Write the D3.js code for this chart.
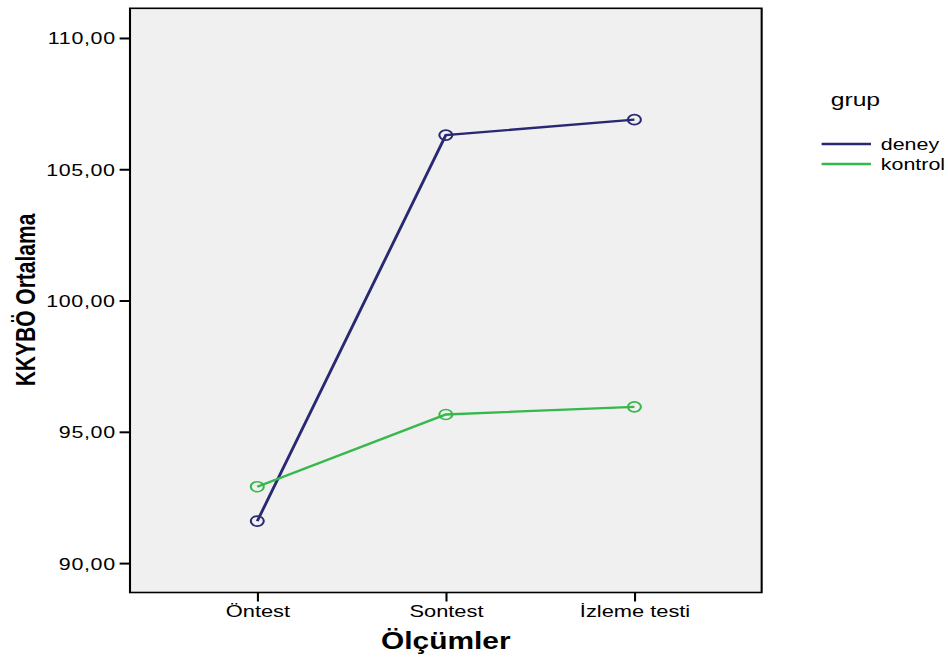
<!DOCTYPE html>
<html>
<head>
<meta charset="utf-8">
<script src="https://cdn.jsdelivr.net/npm/d3@7"></script>
<style>
  body { margin: 0; background: #fff; }
  svg text { font-family: "Liberation Sans", Arial, sans-serif; fill: #000; }
</style>
</head>
<body>
<svg id="chart"></svg>
<script>
// datos
const olcumler = ["Öntest", "Sontest", "İzleme testi"];
const gruplar = ["deney", "kontrol"];
const deney = [91.60, 106.30, 106.89];
const kontrol = [92.91, 95.66, 95.95];
const yTicks = [90, 95, 100, 105, 110];

const W = 948, H = 657;
const sx = 1.3; // la imagen esta estirada horizontalmente
const LW = W / sx;

const svg = d3.select("#chart")
  .attr("width", W)
  .attr("height", H)
  .attr("viewBox", `0 0 ${LW} ${H}`)
  .attr("preserveAspectRatio", "none");

const pLeft = 100, pRight = 585.9, pTop = 8.3, pBottom = 592.5;

const x = d3.scalePoint()
  .domain(olcumler)
  .range([pLeft, pRight])
  .padding(0.675);

const y = d3.scaleLinear()
  .domain([88.88, 111.13])
  .range([pBottom, pTop]);

const colors = d3.scaleOrdinal()
  .domain(gruplar)
  .range(["#282873", "#36b84a"]);

// fondo
svg.append("rect")
  .attr("x", pLeft).attr("y", pTop)
  .attr("width", pRight - pLeft).attr("height", pBottom - pTop)
  .attr("fill", "#f0f0f0");

// Ejes
const yAxis = svg.append("g")
  .attr("transform", `translate(${pLeft},0)`)
  .call(d3.axisLeft(y).tickValues(yTicks).tickSize(8).tickPadding(3)
    .tickFormat(d => d3.format(".2f")(d).replace(".", ",")));
yAxis.select(".domain").remove();
yAxis.selectAll("line").attr("stroke", "#000").attr("stroke-width", 2);
yAxis.selectAll("text")
  .attr("font-size", 16.5)
  .attr("letter-spacing", 0.5)
  .attr("font-family", "Liberation Sans, Arial, sans-serif")
  .attr("dy", "0.36em");

const xAxis = svg.append("g")
  .attr("transform", `translate(0,${pBottom})`)
  .call(d3.axisBottom(x).tickSize(9).tickPadding(4));
xAxis.select(".domain").remove();
xAxis.selectAll("line").attr("stroke", "#000").attr("stroke-width", 1.6);
xAxis.selectAll("text")
  .attr("font-size", 16.8)
  .attr("font-family", "Liberation Sans, Arial, sans-serif");

// marco
svg.append("rect")
  .attr("x", pLeft).attr("y", pTop)
  .attr("width", pRight - pLeft).attr("height", pBottom - pTop)
  .attr("fill", "none")
  .attr("stroke", "#000")
  .attr("stroke-width", 1.6);

// lineas
const series = [
  { name: "deney", values: deney },
  { name: "kontrol", values: kontrol }
];

const line = d3.line()
  .x((d, i) => x(olcumler[i]))
  .y(d => y(d));

series.forEach(s => {
  svg.append("path")
    .datum(s.values)
    .attr("d", line)
    .attr("fill", "none")
    .attr("stroke", colors(s.name))
    .attr("stroke-width", 2.3);

  svg.selectAll(null)
    .data(s.values)
    .join("circle")
    .attr("cx", (d, i) => x(olcumler[i]))
    .attr("cy", d => y(d))
    .attr("r", 5)
    .attr("fill", "none")
    .attr("stroke", colors(s.name))
    .attr("stroke-width", 1.6);
});

// titulos
svg.append("text")
  .attr("x", (pLeft + pRight) / 2)
  .attr("y", 649)
  .attr("text-anchor", "middle")
  .attr("font-size", 23)
  .attr("font-weight", "bold")
  .text("Ölçümler");

svg.append("text")
  .attr("transform", `translate(27,300) rotate(-90)`)
  .attr("text-anchor", "middle")
  .attr("font-size", 21)
  .attr("font-weight", "bold")
  .text("KKYBÖ Ortalama");

// leyenda
svg.append("text")
  .attr("x", 639)
  .attr("y", 106)
  .attr("font-size", 19)
  .text("grup");

gruplar.forEach((g, i) => {
  const ly = 144 + i * 20;
  svg.append("line")
    .attr("x1", 632).attr("x2", 670)
    .attr("y1", ly).attr("y2", ly)
    .attr("stroke", colors(g))
    .attr("stroke-width", 2.3);
  svg.append("text")
    .attr("x", 677.5)
    .attr("y", ly + 6)
    .attr("font-size", 16.5)
    .text(g);
});
</script>
</body>
</html>
